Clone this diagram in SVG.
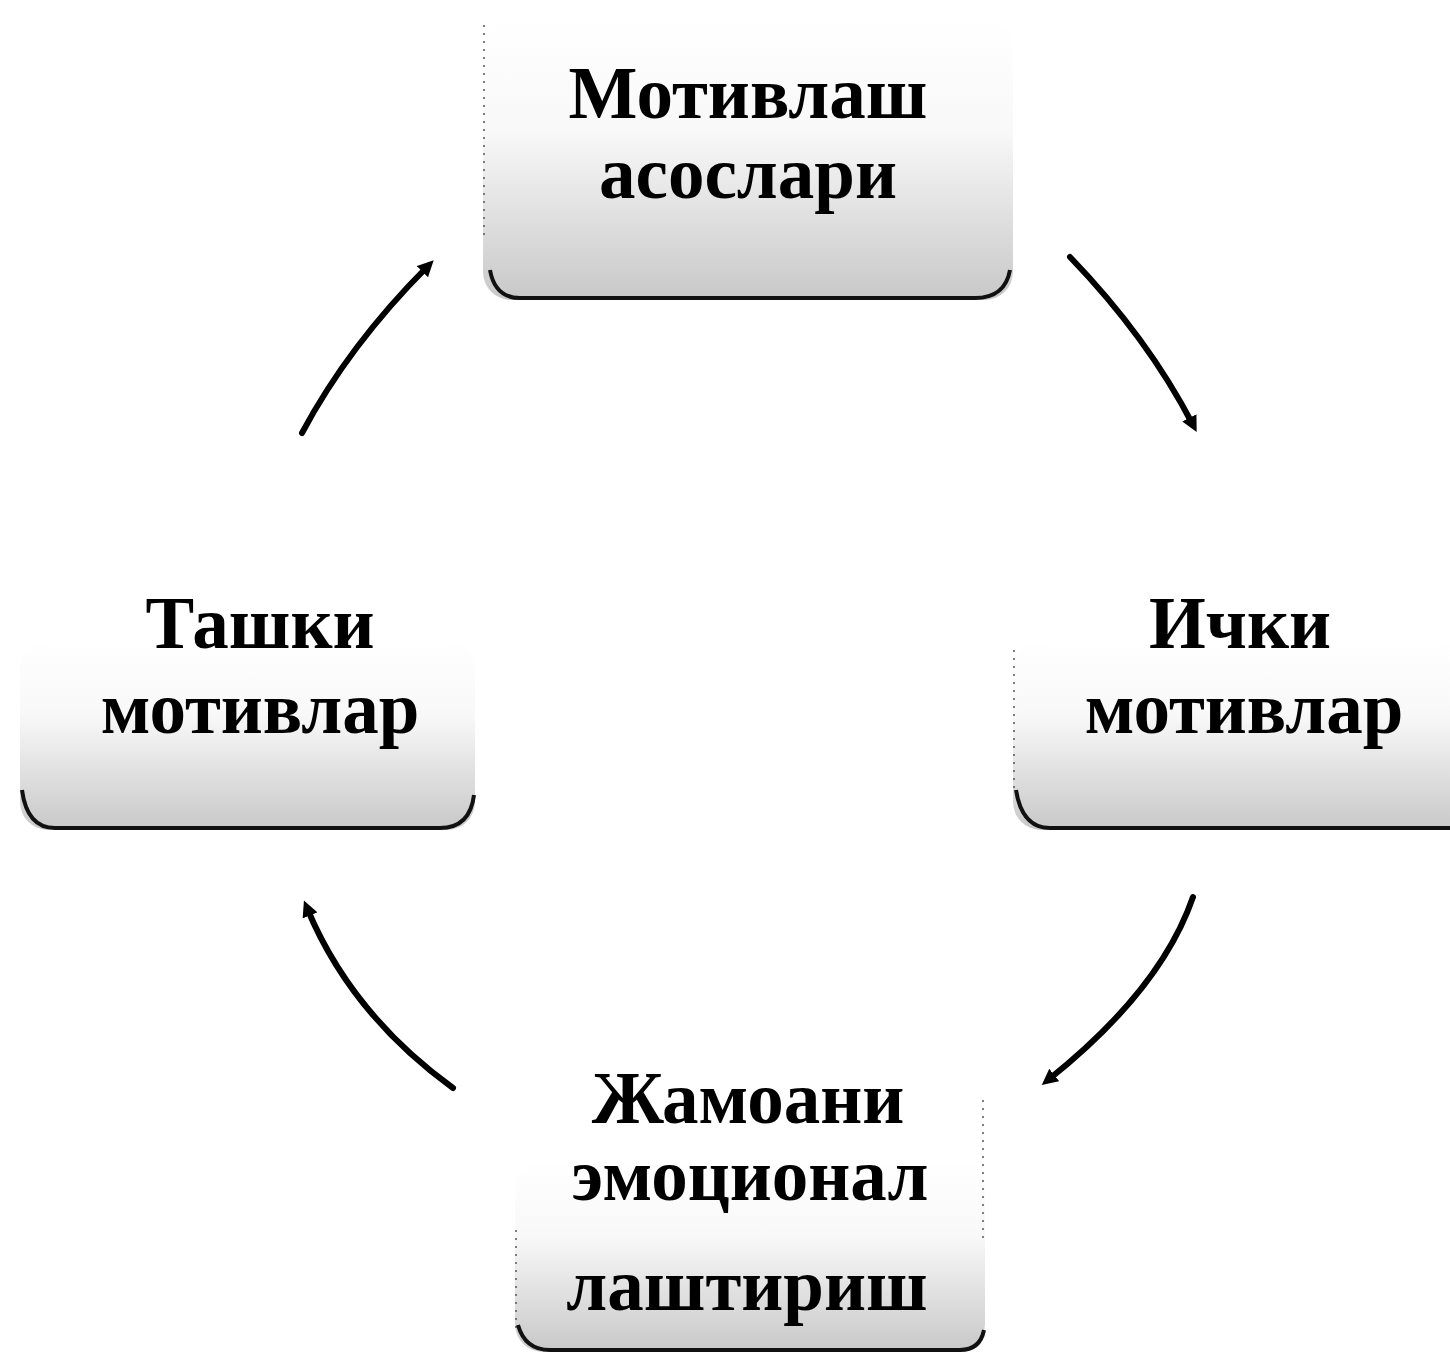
<svg xmlns="http://www.w3.org/2000/svg" width="1450" height="1356" viewBox="0 0 1450 1356">
<style>
.lbl{font-family:"Liberation Serif","Times New Roman",serif;font-weight:bold;font-size:73px;fill:#000;text-anchor:middle}
.box{fill:url(#g)}
.edge{fill:none;stroke:#111;stroke-width:4}
.side{fill:none;stroke:#555;stroke-width:1.5;stroke-dasharray:2 6}
.con{fill:none;stroke:#000;stroke-width:6;stroke-linecap:round}
</style>
<defs>
<linearGradient id="g" x1="0" y1="0" x2="0" y2="1">
<stop offset="0" stop-color="#fff"/>
<stop offset="0.4" stop-color="#f8f8f8"/>
<stop offset="1" stop-color="#c8c8c8"/>
</linearGradient>
<marker id="ah" markerWidth="16" markerHeight="16" refX="6" refY="6" orient="auto" markerUnits="userSpaceOnUse" viewBox="0 0 12 12">
<path d="M0,0 L12,6 L0,12 Z" fill="#000"/>
</marker>
</defs>
<rect width="1450" height="1356" fill="#fff"/>

<g id="node-top">
<rect class="box" x="483" y="20" width="530" height="280" rx="28"/>
<path class="side" d="M484,25 V240"/>
<path class="edge" d="M490,270 Q495,298 520,298 H975 Q1005,298 1010,270"/>
<text class="lbl" x="748" y="118">Мотивлаш</text>
<text class="lbl" x="748" y="198">асослари</text>
</g>

<g id="node-left">
<rect class="box" x="20" y="640" width="455" height="190" rx="28"/>
<path class="edge" d="M22,790 Q27,828 55,828 H440 Q470,828 474,795"/>
<text class="lbl" x="260" y="648">Ташки</text>
<text class="lbl" x="260" y="733">мотивлар</text>
</g>

<g id="node-right">
<rect class="box" x="1013" y="640" width="460" height="190" rx="28"/>
<path class="side" d="M1014,650 V790"/>
<path class="edge" d="M1016,790 Q1022,828 1050,828 H1450"/>
<text class="lbl" x="1240" y="648">Ички</text>
<text class="lbl" x="1244" y="733">мотивлар</text>
</g>

<g id="node-bottom">
<rect class="box" x="515" y="1160" width="470" height="192" rx="28"/>
<path class="side" d="M516,1230 V1330"/>
<path class="side" d="M983,1100 V1240"/>
<path class="edge" d="M518,1325 Q525,1350 550,1350 H960 Q980,1350 984,1330"/>
<text class="lbl" x="748" y="1123">Жамоани</text>
<text class="lbl" x="750" y="1200">эмоционал</text>
<text class="lbl" x="747" y="1310">лаштириш</text>
</g>

<g id="connectors">
<path class="con" d="M1070,257 Q1148,338 1193,425" marker-end="url(#ah)"/>
<path class="con" d="M1193,897 Q1161,990 1048,1080" marker-end="url(#ah)"/>
<path class="con" d="M453,1088 Q351,1014 307,908" marker-end="url(#ah)"/>
<path class="con" d="M302,433 Q349,345 428,266" marker-end="url(#ah)"/>
</g>
</svg>
